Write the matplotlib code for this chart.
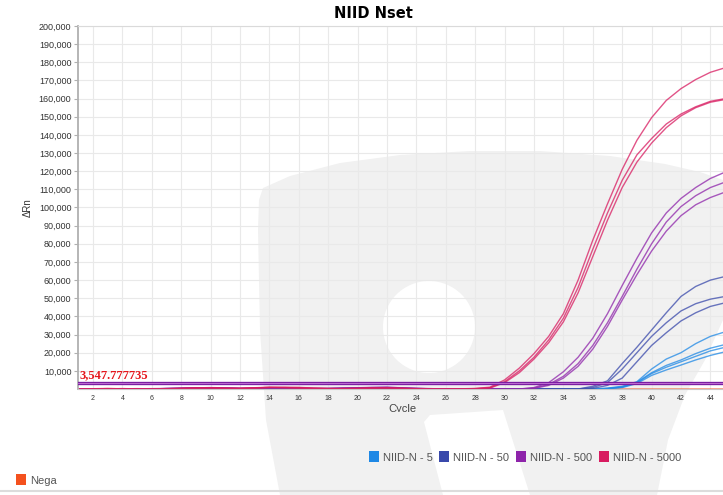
import matplotlib
matplotlib.use("Agg")
import matplotlib.pyplot as plt
from matplotlib.patches import Polygon, Circle, Patch
from matplotlib.lines import Line2D
from matplotlib.transforms import Affine2D, Bbox, TransformedBbox
from matplotlib.ticker import FuncFormatter

W, H = 723, 495

cycles = list(range(1, 46))
threshold = 3547.777735

# amplification curves, delta Rn per cycle (1..45)
n5000 = [
    [0, 150, 250, 100, 0, 0, 200, 400, 500, 700, 400, 300, 600, 900, 700, 500, 300, 200, 300, 400, 600, 500, 300, 100, 0, 0, 100,
     300, 1000, 5000, 11500, 19500, 29000, 41500, 60000, 82000, 102000, 121000, 137000, 149500, 159000, 165500, 170500, 174500, 177000],
    [0, 100, 200, 150, 50, 0, 100, 300, 600, 500, 300, 400, 700, 1000, 800, 600, 400, 200, 200, 300, 500, 600, 400, 200, 0, 0, 50,
     200, 700, 4000, 10000, 17500, 27000, 39000, 56000, 77000, 97000, 115000, 129000, 138000, 146000, 151500, 155500, 158500, 160000],
    [0, 50, 100, 200, 100, 0, 50, 200, 400, 600, 500, 300, 500, 800, 1000, 900, 500, 300, 100, 200, 400, 500, 300, 100, 0, 0, 0,
     100, 500, 3500, 9000, 16500, 25500, 37000, 53000, 73000, 93000, 111000, 125000, 135500, 144000, 150500, 155000, 158000, 159500],
]
n500 = [
    [0, 0, 100, 200, 100, 0, 300, 500, 600, 800, 600, 400, 500, 700, 500, 400, 300, 300, 500, 700, 900, 1000, 600, 300, 100, 0, 0,
     0, 0, 0, 0, 800, 3500, 9500, 17500, 28000, 41500, 57000, 72000, 86000, 97000, 105000, 111000, 116000, 119500],
    [0, 0, 0, 100, 200, 100, 200, 400, 700, 600, 500, 300, 400, 600, 700, 500, 300, 200, 400, 600, 800, 900, 700, 400, 200, 0, 0,
     0, 0, 0, 0, 500, 2500, 7000, 14000, 24000, 36500, 51000, 66000, 80000, 92000, 100500, 106500, 111000, 114000],
    [0, 0, 50, 50, 100, 200, 300, 300, 500, 700, 400, 200, 300, 500, 600, 400, 200, 300, 500, 500, 700, 800, 500, 300, 100, 0, 0,
     0, 0, 0, 0, 300, 2000, 6000, 12500, 22000, 34500, 49000, 63000, 76000, 87000, 95500, 101500, 105500, 108500],
]
n50 = [
    [0, 0, 0, 0, 0, 100, 200, 300, 400, 500, 300, 200, 300, 400, 300, 200, 100, 200, 300, 400, 500, 400, 200, 100, 0, 0, 0,
     0, 0, 0, 0, 0, 0, 0, 0, 1500, 4500, 14000, 23000, 32500, 42000, 51000, 56500, 60000, 62000],
    [0, 0, 0, 0, 0, 0, 100, 200, 300, 400, 300, 200, 200, 300, 400, 200, 100, 100, 200, 300, 400, 300, 200, 0, 0, 0, 0,
     0, 0, 0, 0, 0, 0, 0, 0, 800, 3500, 11000, 20000, 29000, 36500, 43000, 47000, 49500, 51000],
    [0, 0, 0, 0, 0, 0, 0, 100, 200, 300, 200, 100, 200, 300, 200, 100, 0, 100, 200, 300, 300, 200, 100, 0, 0, 0, 0,
     0, 0, 0, 0, 0, 0, 0, 0, 300, 2000, 6000, 15000, 24000, 31000, 37500, 42000, 45500, 47500],
]
n5 = [
    [0, 0, 0, 0, 0, 0, 0, 100, 200, 200, 100, 100, 200, 300, 200, 100, 0, 0, 100, 200, 200, 100, 0, 0, 0, 0, 0,
     0, 0, 0, 0, 0, 0, 0, 0, 0, 500, 1500, 4000, 11000, 16500, 20000, 25000, 29000, 31500],
    [0, 0, 0, 0, 0, 0, 0, 0, 100, 100, 100, 0, 100, 200, 100, 0, 0, 0, 100, 100, 100, 0, 0, 0, 0, 0, 0,
     0, 0, 0, 0, 0, 0, 0, 0, 0, 300, 1200, 3700, 9000, 13000, 16000, 19500, 22500, 24500],
    [0, 0, 0, 0, 0, 0, 0, 0, 0, 100, 0, 0, 0, 100, 100, 0, 0, 0, 0, 100, 0, 0, 0, 0, 0, 0, 0,
     0, 0, 0, 0, 0, 0, 0, 0, 0, 200, 1000, 3400, 8500, 12000, 15000, 18000, 21000, 23000],
    [0, 0, 0, 0, 0, 0, 0, 0, 0, 0, 0, 0, 0, 0, 0, 0, 0, 0, 0, 0, 0, 0, 0, 0, 0, 0, 0,
     0, 0, 0, 0, 0, 0, 0, 0, 0, 100, 800, 3000, 7500, 10500, 13200, 16000, 18500, 20500],
]
nega = [0, 200, 250, 200, 100, 0, 0, 0, 0, 0, 0, 0, 0, 0, 0, 0, 0, 0, 0, 0, 0, 0, 0, 0, 0, 0, 0,
        0, 0, 0, 0, 0, 0, 0, 0, 0, 0, 0, 0, 0, 0, 0, 0, 0, 0]

series = [
    ("NIID-N - 5", "#1e88e5", n5),
    ("NIID-N - 50", "#3949ab", n50),
    ("NIID-N - 500", "#8e24aa", n500),
    ("NIID-N - 5000", "#d81b60", n5000),
]
nega_color = "#f4511e"

fig = plt.figure(figsize=(W / 100, H / 100), dpi=100)
fig.patch.set_facecolor("white")

# pixel coordinates measured from the top-left corner
px = Affine2D().scale(1 / W, -1 / H).translate(0, 1) + fig.transFigure

mark = Polygon([(280, 495), (266, 420), (260, 330), (258, 230), (259, 200), (263, 188), (290, 176),
                (340, 163), (400, 155), (470, 151), (540, 151), (610, 156), (665, 164), (700, 172),
                (723, 180), (723, 320), (705, 360), (685, 395), (668, 440), (657, 495)],
               closed=True, transform=px, facecolor="#f1f1f1", edgecolor="none", zorder=-2)
fig.add_artist(mark)
fig.add_artist(Polygon([(443, 495), (424, 422), (430, 415), (503, 410), (530, 495)], closed=True,
                       transform=px, facecolor="white", edgecolor="none", zorder=-1))
fig.add_artist(Circle((429, 327), 46, transform=px, facecolor="white", edgecolor="none", zorder=-1))

ax = fig.add_axes([78.3 / W, 1 - 389 / H, 1 - 78.3 / W, (389 - 26) / H])
ax.set_facecolor("none")

ax.plot(cycles, nega, color=nega_color, lw=0.9, alpha=0.8)
for name, color, curves in series:
    for vals in curves:
        ax.plot(cycles, vals, color=color, lw=1.0, alpha=0.75)

ax.axhline(threshold, color="#7b1fa2", lw=2.4, zorder=5)
ax.axhline(threshold, color="#c879d8", lw=0.6, zorder=6)
ax.text(1.1, threshold + 900, "3,547.777735", color="#e5161c", family="Liberation Serif",
        weight="bold", size=9, va="bottom", ha="left", zorder=7)

ax.set_xlim(1, 1 + (W - 78.3) / 14.7)
ax.set_ylim(0, 200000)
ax.set_xticks(range(2, 45, 2))
ax.set_yticks(range(10000, 200001, 10000))
ax.yaxis.set_major_formatter(FuncFormatter(lambda v, p: f"{int(v):,}"))
ax.grid(True, color="#e9e9e9", lw=0.8)
ax.set_axisbelow(True)

ax.tick_params(axis="y", length=3, width=0.8, color="#b0b0b0", labelsize=6.5, labelcolor="#333333", pad=2)
ax.tick_params(axis="x", length=0, labelsize=5, labelcolor="#333333", pad=4)
for lab in ax.get_xticklabels() + ax.get_yticklabels():
    lab.set_family("Liberation Sans")

ax.spines["right"].set_visible(False)
ax.spines["left"].set_color("#b0b0b0")
ax.spines["left"].set_linewidth(1.3)
ax.spines["bottom"].set_color("#c8c8c8")
ax.spines["top"].set_color("#dadada")
ax.spines["top"].set_linewidth(0.8)

fig.text(373 / W, 1 - 14 / H, "NIID Nset", ha="center", va="center", weight="bold", size=10.5)
fig.text(28 / W, 1 - 208 / H, "ΔRn", rotation=90, ha="center", va="center", size=7, color="#333333",
         family="Liberation Sans")

# x label, cut off at its lower edge
xl = fig.text(402 / W, 1 - 409 / H, "Cycle", ha="center", va="center", size=8, color="#444444",
              family="Liberation Sans")
xl.set_clip_box(TransformedBbox(Bbox([[0, 1 - 412 / H], [1, 1]]), fig.transFigure))
xl.set_clip_on(True)

handles = [Patch(facecolor=c, edgecolor="none") for _, c, _ in series]
labels = [n for n, _, _ in series]
leg_kw = dict(frameon=False, handlelength=0.9, handleheight=1.1, handletextpad=0.35,
              borderpad=0, borderaxespad=0, prop={"family": "Liberation Sans", "size": 8},
              labelcolor="#555555")
fig.legend(handles, labels, loc="center left", bbox_to_anchor=(369 / W, 1 - 457 / H),
           ncol=4, columnspacing=0.6, **leg_kw)
fig.legend([Patch(facecolor=nega_color, edgecolor="none")], ["Nega"], loc="center left",
           bbox_to_anchor=(16 / W, 1 - 480 / H), **leg_kw)

fig.add_artist(Line2D([0, 1], [1 - 491 / H, 1 - 491 / H], transform=fig.transFigure,
                      color="#dcdcdc", lw=1.5))

fig.savefig("out.png", dpi=100)
